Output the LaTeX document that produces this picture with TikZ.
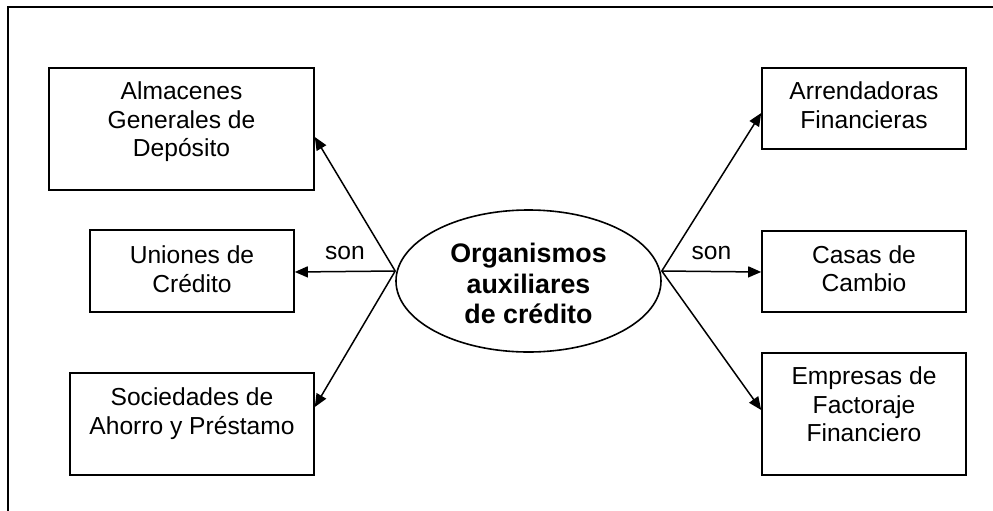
\documentclass[tikz,border=0pt]{standalone}
\usepackage{fontspec}
\setmainfont{Liberation Sans}
\usetikzlibrary{arrows.meta,shapes.geometric}
\tikzset{
  box/.style={draw, line width=0.8pt, rectangle, inner sep=0pt},
  txt/.style={align=center, inner sep=0pt, font=\fontsize{12.3}{14.25}\selectfont},
  btxt/.style={align=center, inner sep=0pt, font=\fontsize{13.4}{15.25}\selectfont\bfseries},
  conn/.style={line width=0.75pt, -{Triangle[length=6.5pt,width=5.5pt]}},
  lbl/.style={inner sep=0pt, font=\fontsize{12.3}{14.25}\selectfont}
}
\begin{document}
\begin{tikzpicture}[x=0.5pt,y=-0.5pt]
\useasboundingbox (0,0) rectangle (993,510);
\draw[line width=1.1pt] (8.3,520) -- (8.3,6.8) -- (1000,6.8);
% boxes
\node[box, minimum width=132.5pt, minimum height=61pt] (alm) at (181.5,129) {};
\node[box, minimum width=102pt, minimum height=41pt] (uni) at (192,271) {};
\node[box, minimum width=122pt, minimum height=51pt] (soc) at (192,424) {};
\node[box, minimum width=102pt, minimum height=40.5pt] (arr) at (864,108.5) {};
\node[box, minimum width=102pt, minimum height=40.5pt] (cas) at (864,271.5) {};
\node[box, minimum width=102pt, minimum height=61pt] (emp) at (864,414) {};
% texts
\node[txt] (almt) at (181.5,122) {Almacenes\\Generales de\\Depósito};
\node[txt] (unit) at (192,269) {Uniones de\\Crédito};
\node[txt] (soct) at (192,413.5) {Sociedades de\\Ahorro y Préstamo};
\node[txt] (arrt) at (864,105) {Arrendadoras\\Financieras};
\node[txt] (cast) at (864,268.5) {Casas de\\Cambio};
\node[txt] (empt) at (864,404.5) {Empresas de\\Factoraje\\Financiero};
% ellipse
\node[draw, ellipse, line width=0.8pt, inner sep=0pt, minimum width=132.5pt, minimum height=71pt] (el) at (528.5,281) {};
\node[btxt] (elt) at (528.5,283.7) {Organismos\\auxiliares\\de crédito};
\coordinate (elL) at ([yshift=5pt]el.west);
\coordinate (elR) at ([yshift=5pt]el.east);
% connectors
\draw[conn] (elL) -- ([yshift=-4pt]alm.east);
\draw[conn] (elL) -- node[lbl, midway, yshift=9.25pt] (son1) {son} ([yshift=-0.5pt]uni.east);
\draw[conn] (elL) -- ([yshift=8.5pt]soc.east);
\draw[conn] (elR) -- ([yshift=-2.25pt]arr.west);
\draw[conn] (elR) -- node[lbl, midway, yshift=9.5pt] (son2) {son} ([yshift=-0.25pt]cas.west);
\draw[conn] (elR) -- ([yshift=2pt]emp.west);
\end{tikzpicture}
\end{document}
